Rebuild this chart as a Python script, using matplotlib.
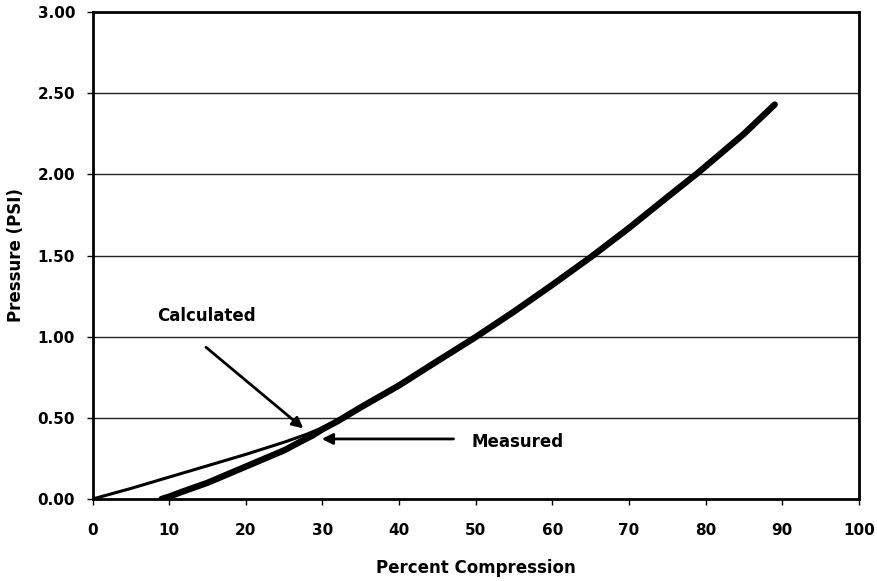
import matplotlib
matplotlib.use("Agg")
import matplotlib.pyplot as plt

plt.rcParams['font.family'] = ['DejaVu Sans']
plt.rcParams['font.weight'] = 'bold'

# Measured data (percent compression, pressure psi)
meas_x = [9, 10, 12, 15, 18, 20, 23, 25, 27, 28.8, 30, 32, 35, 40, 45, 50, 55, 60, 65, 70, 75, 79, 85, 89]
meas_y = [0.0, 0.015, 0.05, 0.10, 0.16, 0.20, 0.26, 0.30, 0.35, 0.394, 0.43, 0.48, 0.565, 0.70, 0.85, 0.998,
          1.155, 1.32, 1.49, 1.67, 1.86, 2.01, 2.25, 2.43]

# Calculated data
calc_x = [0, 5, 10, 15, 20, 25, 28, 30, 33, 35, 40, 45, 50, 55, 60, 65, 70, 75, 79, 85, 89]
calc_y = [0.0, 0.065, 0.135, 0.205, 0.275, 0.35, 0.40, 0.44, 0.51, 0.565, 0.70, 0.85, 0.998,
          1.155, 1.32, 1.49, 1.67, 1.86, 2.01, 2.25, 2.43]

x_ticks = [0, 10, 20, 30, 40, 50, 60, 70, 80, 90, 100]
y_ticks = [0.0, 0.5, 1.0, 1.5, 2.0, 2.5, 3.0]
y_tick_labels = ["0.00", "0.50", "1.00", "1.50", "2.00", "2.50", "3.00"]

fig = plt.figure(figsize=(8.77, 5.81), dpi=100)
ax = fig.add_axes([0.1055, 0.1411, 0.874, 0.8382])

for g in [0.5, 1.0, 1.5, 2.0, 2.5]:
    ax.axhline(g, color='#222222', lw=1.0, zorder=1)

ax.plot(calc_x, calc_y, color='black', lw=2.2, solid_capstyle='round', solid_joinstyle='round', zorder=3)
ax.plot(meas_x, meas_y, color='black', lw=4.6, solid_capstyle='round', solid_joinstyle='round', zorder=3)

ax.set_xlim(0, 100)
ax.set_ylim(0, 3.0)
ax.set_xticks(x_ticks)
ax.set_xticklabels([str(t) for t in x_ticks])
ax.set_yticks(y_ticks)
ax.set_yticklabels(y_tick_labels)

for s in ax.spines.values():
    s.set_linewidth(2.0)
    s.set_color('black')

ax.tick_params(axis='both', direction='out', length=4.5, width=1.0, labelsize=11)
ax.tick_params(axis='y', pad=8)
ax.tick_params(axis='x', pad=13)

ax.set_xlabel("Percent Compression", fontsize=12, fontweight='bold', labelpad=15)
ax.set_ylabel("Pressure (PSI)", fontsize=12, fontweight='bold', labelpad=9)

ax.annotate("", xy=(27.5, 0.435), xytext=(14.8, 0.935),
            arrowprops=dict(arrowstyle='-|>', color='black', lw=2.0,
                            mutation_scale=16, shrinkA=0, shrinkB=0), zorder=4)
ax.annotate("", xy=(29.9, 0.37), xytext=(47.1, 0.37),
            arrowprops=dict(arrowstyle='-|>', color='black', lw=2.0,
                            mutation_scale=16, shrinkA=0, shrinkB=0), zorder=4)

ax.text(8.4, 1.128, "Calculated", fontsize=12, fontweight='bold', va='center', ha='left')
ax.text(49.5, 0.349, "Measured", fontsize=12, fontweight='bold', va='center', ha='left')

fig.savefig("out.png", dpi=100)
